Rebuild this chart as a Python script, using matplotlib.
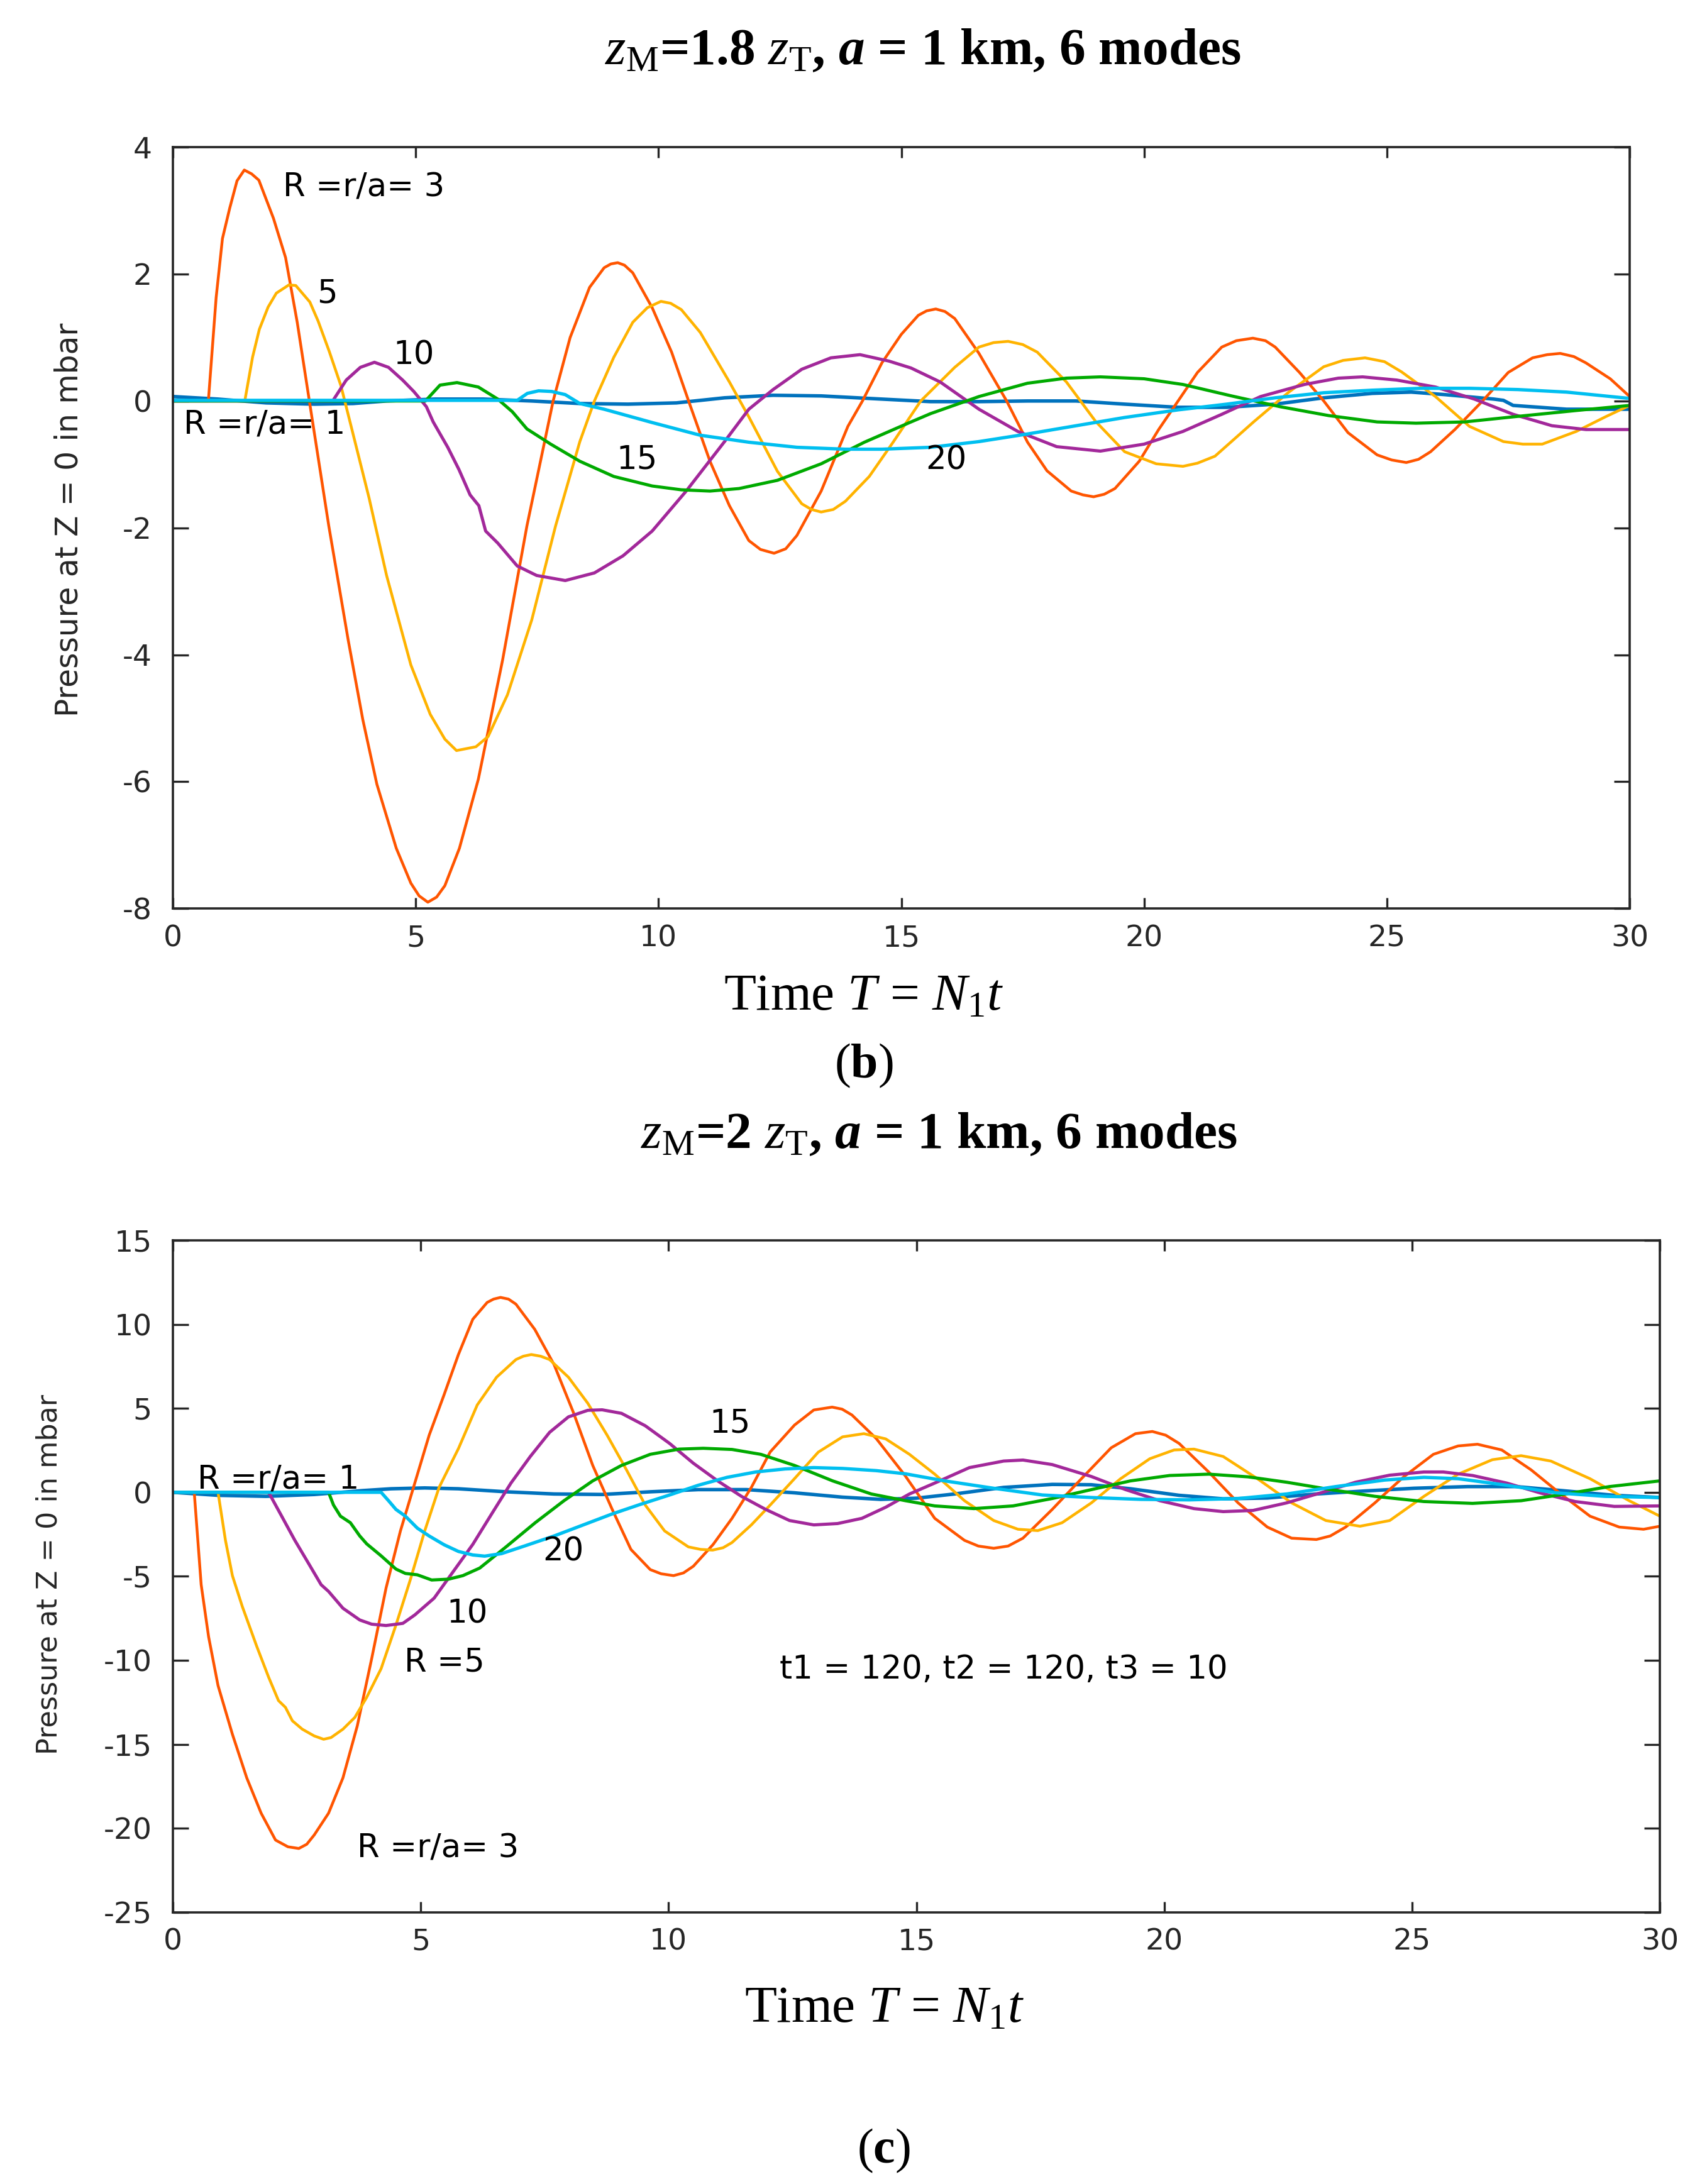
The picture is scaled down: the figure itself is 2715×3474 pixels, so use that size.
"""Pressure at Z = 0 for several radii, panels (b) and (c)."""
import matplotlib
matplotlib.use("Agg")
import matplotlib.pyplot as plt
from matplotlib.ticker import MultipleLocator

plt.rcParams["font.family"] = ["DejaVu Sans"]
plt.rcParams["axes.unicode_minus"] = False
plt.rcParams["mathtext.fontset"] = "custom"
plt.rcParams["mathtext.rm"] = "Liberation Serif"
plt.rcParams["mathtext.it"] = "Liberation Serif:italic"
plt.rcParams["mathtext.bf"] = "Liberation Serif:bold"
try:
    plt.rcParams["mathtext.bfit"] = "Liberation Serif:italic:bold"
    A_BOLD = r"$\mathbfit{a}$"
except KeyError:
    A_BOLD = r"$\mathit{a}$"

# ---------------- panel (b): zM = 1.8 zT ----------------
b_t_r1 = [0, 0.92, 1.92, 2.91, 3.71, 4.4, 5.4, 6.39, 7.39, 8.38, 9.37, 10.37, 11.36, 12.36,
          13.35, 14.34, 15.6, 16.6, 17.6, 18.6, 19.6, 20.7, 21.7, 22.7, 23.7, 24.7, 25.5,
          26.2, 27.2, 27.4, 27.6, 28.7, 30]
b_p_r1 = [0.07, 0.03, -0.03, -0.05, -0.04, 0.0, 0.03, 0.03, 0.0, -0.04, -0.05, -0.03, 0.05, 0.09,
          0.08, 0.04, -0.01, -0.01, 0.0, 0.0, -0.05, -0.1, -0.1, -0.05, 0.05, 0.12, 0.14,
          0.1, 0.03, 0.01, -0.07, -0.13, -0.13]

b_t_r3 = [0, 0.73, 0.89, 1.02, 1.17, 1.32, 1.47, 1.62, 1.77, 2.07, 2.32, 2.56, 2.81, 3.21, 3.61,
          3.91, 4.2, 4.6, 4.9, 5.07, 5.25, 5.43, 5.6, 5.9, 6.29, 6.79, 7.29, 7.83, 8.18, 8.58,
          8.88, 9.02, 9.16, 9.3, 9.47, 9.87, 10.27, 10.62, 11.06, 11.46, 11.86, 12.1, 12.38,
          12.62, 12.85, 13.35, 13.9, 14.2, 14.6, 15.0, 15.35, 15.52, 15.71, 15.9, 16.1, 16.6,
          17.17, 17.6, 18.0, 18.5, 18.74, 18.96, 19.18, 19.4, 19.9, 20.3, 20.7, 21.1, 21.6,
          21.9, 22.24, 22.5, 22.7, 23.2, 23.7, 24.2, 24.8, 25.1, 25.4, 25.65, 25.9, 26.4, 26.97,
          27.5, 28.0, 28.3, 28.57, 28.85, 29.1, 29.6, 30]
b_p_r3 = [0, 0, 1.63, 2.56, 3.04, 3.47, 3.64, 3.58, 3.48, 2.88, 2.26, 1.24, 0, -1.97, -3.77,
          -5.02, -6.04, -7.05, -7.6, -7.8, -7.9, -7.82, -7.64, -7.05, -5.96, -4.08, -1.97, 0, 1.0, 1.79,
          2.1, 2.16, 2.18, 2.14, 2.02, 1.47, 0.77, 0, -0.95, -1.65, -2.2, -2.34, -2.4,
          -2.33, -2.12, -1.42, -0.4, 0.0, 0.6, 1.05, 1.35, 1.42, 1.45, 1.41, 1.3, 0.75,
          0, -0.65, -1.1, -1.42, -1.48, -1.51, -1.47, -1.38, -0.95, -0.45, 0, 0.45, 0.85,
          0.95, 0.99, 0.95, 0.85, 0.45, 0, -0.5, -0.85, -0.93, -0.97, -0.92, -0.8, -0.45, 0,
          0.45, 0.68, 0.73, 0.75, 0.7, 0.6, 0.35, 0.07]

b_t_r5 = [0, 1.48, 1.64, 1.78, 1.96, 2.13, 2.39, 2.53, 2.82, 2.99, 3.22, 3.46, 3.69, 4.04, 4.4,
          4.9, 5.3, 5.6, 5.84, 6.24, 6.49, 6.89, 7.39, 7.88, 8.38, 8.68, 9.08, 9.47, 9.77, 10.05,
          10.25, 10.47, 10.86, 11.46, 11.86, 12.45, 12.95, 13.15, 13.35, 13.6, 13.85, 14.34,
          14.84, 15.4, 16.1, 16.6, 16.9, 17.2, 17.5, 17.8, 18.4, 19.0, 19.6, 20.25, 20.8, 21.1,
          21.46, 22.27, 22.98, 23.7, 24.1, 24.55, 24.95, 25.3, 26.0, 26.7, 27.4, 27.8, 28.2,
          28.9, 29.5, 30]
b_p_r5 = [0, 0, 0.69, 1.13, 1.48, 1.70, 1.83, 1.82, 1.56, 1.26, 0.78, 0.24, -0.46, -1.53, -2.75,
          -4.16, -4.94, -5.33, -5.51, -5.45, -5.29, -4.63, -3.45, -1.97, -0.64, 0, 0.69, 1.24, 1.47, 1.57,
          1.54, 1.44, 1.08, 0.3, -0.25, -1.11, -1.62, -1.71, -1.75, -1.71, -1.58, -1.19,
          -0.64, 0.0, 0.53, 0.85, 0.92, 0.94, 0.89, 0.77, 0.3, -0.32, -0.8, -0.99, -1.03, -0.98,
          -0.87, -0.32, 0.14, 0.54, 0.64, 0.68, 0.62, 0.46, 0.07, -0.4, -0.64, -0.68, -0.68,
          -0.48, -0.25, -0.07]

b_t_r10 = [0, 3.29, 3.57, 3.86, 4.15, 4.44, 4.73, 4.96, 5.22, 5.36, 5.66, 5.89, 6.12, 6.3, 6.44,
           6.69, 7.09, 7.49, 8.08, 8.68, 9.27, 9.87, 10.57, 11.36, 11.86, 12.36, 12.95, 13.55,
           14.15, 14.74, 15.2, 15.8, 16.6, 17.4, 18.2, 19.1, 20.0, 20.8, 21.6, 22.4, 23.3,
           24.0, 24.5, 25.2, 26.0, 26.8, 27.6, 28.4, 29.1, 30]
b_p_r10 = [0, 0, 0.33, 0.53, 0.61, 0.53, 0.33, 0.15, -0.09, -0.33, -0.73, -1.08, -1.48, -1.65, -2.05,
           -2.24, -2.6, -2.75, -2.83, -2.71, -2.44, -2.05, -1.42, -0.64, -0.13, 0.18, 0.5, 0.68,
           0.73, 0.63, 0.52, 0.3, -0.13, -0.48, -0.72, -0.79, -0.68, -0.48, -0.21, 0.07, 0.26,
           0.36, 0.38, 0.33, 0.22, 0.03, -0.21, -0.39, -0.45, -0.45]

b_t_r15 = [0, 5.2, 5.5, 5.85, 6.29, 6.69, 6.99, 7.29, 7.78, 8.38, 9.08, 9.87, 10.47, 11.06, 11.66,
           12.45, 13.35, 14.24, 15.14, 15.6, 16.6, 17.6, 18.4, 19.1, 20.0, 20.8, 21.8, 22.8,
           23.8, 24.8, 25.6, 26.6, 27.6, 28.9, 30]
b_p_r15 = [0, 0, 0.25, 0.29, 0.22, 0.03, -0.17, -0.44, -0.68, -0.95, -1.19, -1.34, -1.4, -1.42, -1.38,
           -1.25, -0.99, -0.65, -0.35, -0.2, 0.07, 0.28, 0.36, 0.38, 0.35, 0.26, 0.08, -0.09,
           -0.23, -0.33, -0.35, -0.33, -0.25, -0.15, -0.07]

b_t_r20 = [0, 7.09, 7.3, 7.53, 7.8, 8.08, 8.38, 8.88, 9.87, 10.86, 11.86, 12.85, 13.85, 14.6, 15.6,
           16.6, 17.6, 18.6, 19.6, 20.7, 21.7, 22.7, 23.7, 24.7, 25.7, 26.7, 27.7, 28.7, 30]
b_p_r20 = [0.01, 0.01, 0.12, 0.16, 0.15, 0.1, -0.04, -0.13, -0.34, -0.54, -0.65, -0.73, -0.76, -0.76, -0.73,
           -0.64, -0.52, -0.39, -0.26, -0.14, -0.05, 0.05, 0.13, 0.17, 0.2, 0.2, 0.18, 0.14, 0.04]

# ---------------- panel (c): zM = 2 zT ----------------
c_t_r1 = [0, 0.91, 1.88, 2.85, 3.82, 4.4, 5.08, 5.76, 6.72, 7.69, 8.66, 9.63, 10.6, 11.57, 12.54,
          13.51, 14.28, 15.0, 15.77, 16.76, 17.74, 18.53, 19.32, 20.3, 21.19, 22.08, 23.07,
          24.05, 25.04, 26.12, 27.1, 28.1, 29.08, 30]
c_p_r1 = [0, -0.18, -0.24, -0.13, 0.1, 0.21, 0.26, 0.21, 0.03, -0.1, -0.13, 0.03, 0.16, 0.16, -0.03,
          -0.29, -0.42, -0.35, -0.1, 0.29, 0.47, 0.45, 0.21, -0.18, -0.39, -0.34, -0.1,
          0.08, 0.24, 0.34, 0.34, 0.08, -0.18, -0.31]

c_t_r3 = [0, 0.43, 0.57, 0.72, 0.91, 1.2, 1.49, 1.78, 2.07, 2.32, 2.54, 2.7, 2.85, 3.14, 3.43, 3.72,
          4.01, 4.3, 4.59, 4.88, 5.17, 5.47, 5.76, 6.05, 6.34, 6.47, 6.61, 6.77, 6.92, 7.3, 7.69,
          8.08, 8.47, 8.86, 9.24, 9.63, 9.85, 10.1, 10.3, 10.5, 10.9, 11.28, 11.67, 12.05, 12.54,
          12.93, 13.3, 13.5, 13.7, 14.19, 14.77, 15.37, 15.97, 16.25, 16.56, 16.85, 17.15, 17.74,
          18.33, 18.93, 19.42, 19.76, 20.03, 20.3, 20.9, 21.49, 22.08, 22.57, 23.07, 23.35, 23.66,
          24.25, 24.84, 25.43, 25.93, 26.32, 26.81, 27.4, 28.0, 28.59, 29.18, 29.67, 30]
c_p_r3 = [0, 0, -5.5, -8.6, -11.5, -14.4, -17.0, -19.1, -20.7, -21.1, -21.2, -20.95, -20.4, -19.1, -17.0, -13.9,
          -9.9, -5.7, -2.3, 0.55, 3.4, 5.8, 8.2, 10.3, 11.3, 11.5, 11.6, 11.5, 11.2, 9.7, 7.6,
          4.75, 1.6, -1.0, -3.4, -4.6, -4.85, -4.96, -4.8, -4.4, -3.1, -1.55, 0.29, 2.4, 4.0,
          4.9, 5.07, 4.95, 4.6, 3.2, 1.0, -1.55, -2.86, -3.2, -3.33, -3.2, -2.73, -1.02,
          0.81, 2.65, 3.49, 3.62, 3.4, 2.91, 1.2, -0.63, -2.07, -2.73, -2.81, -2.6, -2.07,
          -0.63, 0.94, 2.26, 2.76, 2.86, 2.52, 1.34, -0.1, -1.42, -2.07, -2.2, -2.02]

c_t_r5 = [0, 0.91, 1.06, 1.2, 1.4, 1.69, 1.93, 2.13, 2.27, 2.41, 2.61, 2.85, 3.04, 3.19, 3.43,
          3.67, 3.91, 4.2, 4.5, 4.79, 5.08, 5.37, 5.76, 6.14, 6.53, 6.92, 7.07, 7.23, 7.42, 7.6,
          7.98, 8.37, 8.76, 9.15, 9.53, 9.92, 10.4, 10.65, 10.89, 11.1, 11.28, 11.67, 12.05,
          12.54, 13.02, 13.51, 13.94, 14.38, 14.86, 15.37, 15.97, 16.56, 17.05, 17.45, 17.94,
          18.53, 19.12, 19.71, 20.2, 20.6, 21.19, 21.88, 22.57, 23.26, 23.95, 24.55, 25.24,
          25.93, 26.62, 27.2, 27.8, 28.59, 29.38, 30]
c_p_r5 = [0, 0, -2.86, -4.96, -6.8, -9.16, -11.0, -12.4, -12.8, -13.6, -14.1, -14.5, -14.7, -14.6, -14.1,
          -13.4, -12.2, -10.5, -7.9, -5.2, -2.3, 0.29, 2.6, 5.2, 6.85, 7.9, 8.1, 8.2, 8.1, 7.9,
          6.85, 5.3, 3.4, 1.34, -0.76, -2.3, -3.25, -3.4, -3.44, -3.3, -2.99, -1.94, -0.76,
          0.81, 2.39, 3.3, 3.49, 3.18, 2.26, 1.08, -0.5, -1.68, -2.2, -2.28, -1.81,
          -0.63, 0.81, 2.0, 2.52, 2.57, 2.13, 0.81, -0.63, -1.68, -2.02, -1.68, -0.24,
          1.08, 1.94, 2.18, 1.86, 0.81, -0.5, -1.42]

c_t_r10 = [0, 1.93, 2.17, 2.46, 2.75, 2.99, 3.14, 3.43, 3.77, 4.01, 4.3, 4.64, 4.88, 5.27, 5.66,
           6.05, 6.43, 6.82, 7.21, 7.6, 7.98, 8.37, 8.66, 9.05, 9.53, 10.02, 10.5, 10.99, 11.47,
           11.96, 12.44, 12.93, 13.41, 13.9, 14.38, 14.86, 15.37, 16.07, 16.76, 17.15, 17.74,
           18.53, 19.22, 19.91, 20.6, 21.19, 21.79, 22.47, 23.16, 23.86, 24.55, 25.24, 25.63,
           26.22, 26.91, 27.6, 28.29, 29.08, 30]
c_p_r10 = [0, 0, -1.29, -2.86, -4.3, -5.5, -5.9, -6.9, -7.6, -7.85, -7.93, -7.8, -7.3, -6.3, -4.7,
           -3.1, -1.29, 0.55, 2.13, 3.57, 4.49, 4.88, 4.91, 4.7, 3.96, 2.91, 1.73, 0.68, -0.24,
           -1.02, -1.68, -1.94, -1.86, -1.55, -0.89, -0.1, 0.55, 1.47, 1.86, 1.92, 1.65,
           0.94, 0.16, -0.5, -0.97, -1.15, -1.08, -0.63, -0.03, 0.6, 1.02, 1.21, 1.21,
           1.0, 0.55, -0.05, -0.55, -0.84, -0.81]

c_t_r15 = [0, 3.14, 3.24, 3.38, 3.58, 3.77, 3.91, 4.2, 4.5, 4.69, 4.93, 5.22, 5.56, 5.85, 6.19,
           6.72, 7.31, 7.89, 8.47, 9.05, 9.63, 10.21, 10.7, 11.28, 11.86, 12.54, 13.31, 14.09,
           14.78, 15.37, 16.16, 16.95, 17.74, 18.53, 19.32, 20.11, 20.9, 21.69, 22.47, 23.36,
           24.25, 25.24, 26.22, 27.2, 28.1, 28.98, 30]
c_p_r15 = [0, 0, -0.76, -1.42, -1.81, -2.6, -3.07, -3.78, -4.57, -4.83, -4.91, -5.22, -5.17, -4.96, -4.51,
           -3.25, -1.81, -0.5, 0.68, 1.6, 2.26, 2.57, 2.62, 2.55, 2.26, 1.6, 0.68, -0.1,
           -0.5, -0.81, -0.97, -0.81, -0.37, 0.16, 0.68, 1.0, 1.08, 0.92, 0.6, 0.16,
           -0.24, -0.55, -0.66, -0.5, -0.1, 0.34, 0.68]

c_t_r20 = [0, 4.2, 4.35, 4.5, 4.69, 4.93, 5.17, 5.47, 5.76, 6.05, 6.29, 6.63, 7.11, 7.69, 8.28,
           8.86, 9.44, 10.02, 10.6, 11.18, 11.76, 12.35, 12.93, 13.51, 14.19, 14.78, 15.57,
           16.56, 17.54, 18.53, 19.52, 20.5, 21.49, 22.47, 23.46, 24.45, 25.24, 25.93, 26.91,
           27.9, 28.89, 30]
c_p_r20 = [0, 0, -0.5, -1.02, -1.42, -2.13, -2.6, -3.12, -3.52, -3.73, -3.8, -3.65, -3.18, -2.6, -1.94,
           -1.29, -0.71, -0.16, 0.42, 0.89, 1.21, 1.39, 1.47, 1.42, 1.29, 1.1, 0.68,
           0.24, -0.16, -0.31, -0.42, -0.45, -0.37, -0.1, 0.34, 0.73, 0.89, 0.81, 0.42,
           -0.03, -0.24, -0.31]

COLORS = {"r1": "#0072BD", "r3": "#FF5500", "r5": "#FFB300",
          "r10": "#A2289A", "r15": "#00AA00", "r20": "#00BFF0"}
WIDTHS = {"r1": 4.0, "r3": 3.2, "r5": 3.2, "r10": 3.6, "r15": 3.6, "r20": 3.8}
AX_COLOR = "#262626"

fig = plt.figure(figsize=(27.15, 34.74), dpi=100, facecolor="white")


def style_axes(ax, ylim, ystep):
    ax.set_xlim(0, 30)
    ax.set_ylim(*ylim)
    ax.xaxis.set_major_locator(MultipleLocator(5))
    ax.yaxis.set_major_locator(MultipleLocator(ystep))
    ax.tick_params(axis="both", direction="in", top=True, right=True,
                   width=2.4, color=AX_COLOR, labelcolor=AX_COLOR, labelsize=34)
    ax.tick_params(axis="x", length=12, pad=18)
    ax.tick_params(axis="y", length=18, pad=24)
    for sp in ax.spines.values():
        sp.set_linewidth(2.6)
        sp.set_color(AX_COLOR)


def draw(ax, series):
    for key, t, p in series:
        ax.plot(t, p, color=COLORS[key], linewidth=WIDTHS[key],
                solid_joinstyle="round", solid_capstyle="round")


serif = "Liberation Serif"
ann = dict(fontsize=37, color="black", ha="left", va="baseline")

# ---- (b) ----
ax1 = fig.add_axes([0.1013, 0.5840, 0.8534, 0.3486])
draw(ax1, [("r1", b_t_r1, b_p_r1), ("r3", b_t_r3, b_p_r3), ("r5", b_t_r5, b_p_r5),
           ("r10", b_t_r10, b_p_r10), ("r15", b_t_r15, b_p_r15), ("r20", b_t_r20, b_p_r20)])
style_axes(ax1, (-8, 4), 2)
ax1.text(2.27, 3.22, "R =r/a= 3", **ann)
ax1.text(2.97, 1.55, "5", **ann)
ax1.text(4.53, 0.58, "10", **ann)
ax1.text(0.22, -0.51, "R =r/a= 1", **ann)
ax1.text(9.13, -1.07, "15", **ann)
ax1.text(15.5, -1.08, "20", **ann)

fig.text(0.5407, 1 - 102 / 3474, r"$z_{\mathrm{M}}$=1.8 $z_{\mathrm{T}}$, " + A_BOLD + " = 1 km, 6 modes",
         family=serif, fontweight="bold", fontsize=60, ha="center", va="baseline")
fig.text(0.5061, 1 - 1606 / 3474, r"Time $T$ = $N_{1}t$",
         family=serif, fontsize=60, ha="center", va="baseline")
fig.text(0.5061, 1 - 1714 / 3474, r"($\mathbf{b}$)",
         family=serif, fontsize=56, ha="center", va="baseline")
fig.text(110 / 2715, 1 - 827 / 3474, "Pressure at Z = 0 in mbar", rotation=90,
         fontsize=35, color=AX_COLOR, ha="center", va="center")

# ---- (c) ----
ax2 = fig.add_axes([0.1013, 0.1244, 0.8711, 0.3077])
draw(ax2, [("r1", c_t_r1, c_p_r1), ("r3", c_t_r3, c_p_r3), ("r5", c_t_r5, c_p_r5),
           ("r10", c_t_r10, c_p_r10), ("r15", c_t_r15, c_p_r15), ("r20", c_t_r20, c_p_r20)])
style_axes(ax2, (-25, 15), 5)
ax2.text(0.49, 0.25, "R =r/a= 1", **ann)
ax2.text(7.46, -4.08, "20", **ann)
ax2.text(5.52, -7.78, "10", **ann)
ax2.text(4.67, -10.66, "R =5", **ann)
ax2.text(3.72, -21.74, "R =r/a= 3", **ann)
ax2.text(10.83, 3.55, "15", **ann)
ax2.text(12.24, -11.08, "t1 = 120, t2 = 120, t3 = 10", **ann)

fig.text(0.5503, 1 - 1826 / 3474, r"$z_{\mathrm{M}}$=2 $z_{\mathrm{T}}$, " + A_BOLD + " = 1 km, 6 modes",
         family=serif, fontweight="bold", fontsize=60, ha="center", va="baseline")
fig.text(0.5182, 1 - 3216 / 3474, r"Time $T$ = $N_{1}t$",
         family=serif, fontsize=60, ha="center", va="baseline")
fig.text(0.5175, 1 - 3440 / 3474, r"($\mathbf{c}$)",
         family=serif, fontsize=56, ha="center", va="baseline")
fig.text(78 / 2715, 1 - 2504 / 3474, "Pressure at Z = 0 in mbar", rotation=90,
         fontsize=32, color=AX_COLOR, ha="center", va="center")

fig.savefig("out.png", dpi=100, facecolor="white")
